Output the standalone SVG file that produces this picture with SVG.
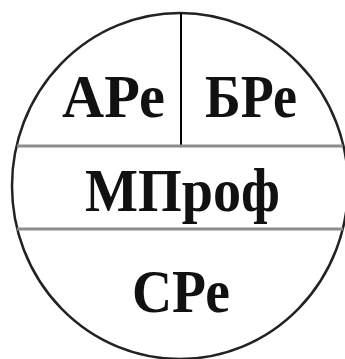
<svg xmlns="http://www.w3.org/2000/svg" width="345" height="359" viewBox="0 0 345 359">
<style>
.lbl{font-family:"Liberation Serif","Times New Roman",serif;font-weight:bold;font-size:62px;fill:#111}
.outline{fill:#fff;stroke:#222;stroke-width:2.5}
.div{stroke:#8c8c8c;stroke-width:3}
.vdiv{stroke:#000;stroke-width:2}
</style>
<rect width="345" height="359" fill="#fff"/>
<g id="connectors">
<ellipse class="outline" cx="180" cy="186" rx="168" ry="173"/>
<line class="vdiv" x1="181" y1="13" x2="181" y2="146"/>
<line class="div" x1="17" y1="146" x2="343" y2="146"/>
<line class="div" x1="17" y1="229" x2="343" y2="229"/>
</g>
<g id="node-ARe"><text class="lbl" x="62" y="117" textLength="103" lengthAdjust="spacingAndGlyphs">АРе</text></g>
<g id="node-BRe"><text class="lbl" x="205" y="117" textLength="92" lengthAdjust="spacingAndGlyphs">БРе</text></g>
<g id="node-MProf"><text class="lbl" x="85" y="211" textLength="195" lengthAdjust="spacingAndGlyphs">МПроф</text></g>
<g id="node-SRe"><text class="lbl" x="132" y="312" textLength="98" lengthAdjust="spacingAndGlyphs">СРе</text></g>
</svg>
